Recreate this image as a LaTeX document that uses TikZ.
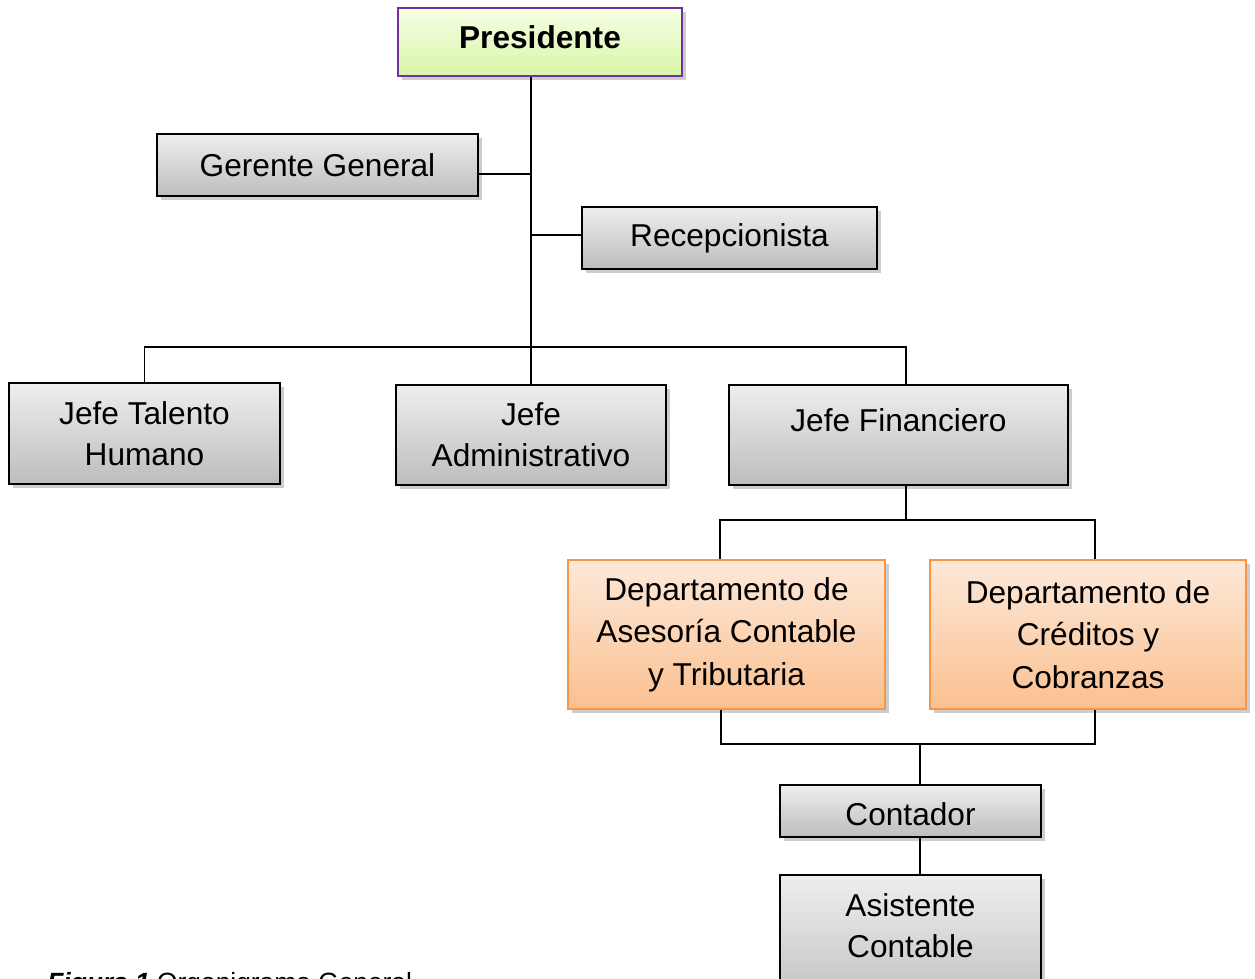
\documentclass[tikz,border=0pt]{standalone}
\usepackage{fontspec}
\setmainfont{Liberation Sans}
\usepackage{tikz}
\usetikzlibrary{positioning, calc, shadows}
\usepackage{xcolor}
\definecolor{morado}{HTML}{7030A0}
\definecolor{naranja}{HTML}{F79646}
\definecolor{verdeclaro}{HTML}{F6FFE4}
\definecolor{verde}{HTML}{D8F5AA}
\definecolor{grisclaro}{HTML}{EEEEEE}
\definecolor{gris}{HTML}{BDBDBD}
\definecolor{naranjaclaro}{HTML}{FDE9DA}
\definecolor{naranjamedio}{HTML}{FAC090}

\tikzset{
    cargo/.style={draw=black, line width=1.1pt, top color=grisclaro, bottom color=gris,
        drop shadow={shadow xshift=2pt, shadow yshift=-2pt, opacity=0.28, fill=black!70},
        align=center, inner sep=0pt, font=\fontsize{18}{23.5}\selectfont},
    presi/.style={cargo, draw=morado, top color=verdeclaro, bottom color=verde,
        font=\fontsize{18}{23.5}\selectfont\bfseries},
    depto/.style={cargo, draw=naranja, top color=naranjaclaro, bottom color=naranjamedio,
        font=\fontsize{18}{24.2}\selectfont},
    linea/.style={draw=black, line width=1pt}
}

\begin{document}
\begin{tikzpicture}[x=0.02cm, y=-0.02cm]
    \useasboundingbox (0,0) rectangle (1255,978);

    \node[presi, minimum width=284*0.02cm, minimum height=68*0.02cm] (pres) at (540,42) {\raisebox{0.1cm}[\height][\depth]{Presidente}};
    \node[cargo, minimum width=321*0.02cm, minimum height=62*0.02cm] (ger) at (317.5,165) {Gerente General};
    \node[cargo, minimum width=295*0.02cm, minimum height=62*0.02cm] (rec) at (729.5,238) {Recepcionista};

    \node[cargo, minimum width=271*0.02cm, minimum height=101*0.02cm] (jth) at (144.5,433.5) {Jefe Talento\\Humano};
    \node[cargo, minimum width=270*0.02cm, minimum height=100*0.02cm] (jad) at (531,435) {Jefe\\Administrativo};
    \node[cargo, minimum width=339*0.02cm, minimum height=100*0.02cm] (jfi) at (898.5,435) {\raisebox{0.3cm}[\height][\depth]{Jefe Financiero}};

    \node[depto, minimum width=317*0.02cm, minimum height=149*0.02cm] (dac) at (726.5,634.5) {Departamento de\\Asesoría Contable\\y Tributaria};
    \node[depto, minimum width=316*0.02cm, minimum height=149*0.02cm] (dcc) at (1088,634.5) {Departamento de\\Créditos y\\Cobranzas};

    \node[cargo, minimum width=261*0.02cm, minimum height=52*0.02cm] (cont) at (910.5,811) {\raisebox{-0.07cm}[\height][\depth]{Contador}};
    \node[cargo, minimum width=261*0.02cm, minimum height=142*0.02cm] (asis) at (910.5,946) {Asistente\\Contable\\~};

    \node[anchor=base west, inner sep=0pt, font=\fontsize{15}{18}\selectfont] (pie) at (47,991) {\textbf{\textit{Figura 1}} Organigrama General};

    \coordinate (cger) at (532,174);
    \coordinate (crec) at (532,235);
    \coordinate (barra) at (0,347);
    \coordinate (barrafin) at (0,520);
    \coordinate (barradep) at (0,744);

    \draw[linea] (jad.north) -- (jad.north |- pres.south);
    \draw[linea] (ger.east |- cger) -- (cger);
    \draw[linea] (crec) -- (crec -| rec.west);
    \draw[linea] (jth.north) |- ($(barra -| jfi.north)+(7.5,0)$) -- ($(jfi.north)+(7.5,0)$);
    \draw[linea] ($(jfi.south)+(7.5,0)$) -- ($(barrafin -| jfi.south)+(7.5,0)$);
    \draw[linea] ($(dac.north)+(-6.5,0)$) |- ($(barrafin -| dcc.north)+(7,0)$) -- ($(dcc.north)+(7,0)$);
    \draw[linea] ($(dac.south)+(-5.5,0)$) |- ($(barradep -| dcc.south)+(7,0)$) -- ($(dcc.south)+(7,0)$);
    \draw[linea] ($(cont.north)+(9.5,0)$) -- ($(barradep -| cont.north)+(9.5,0)$);
    \draw[linea] ($(cont.south)+(9.5,0)$) -- ($(asis.north)+(9.5,0)$);
\end{tikzpicture}
\end{document}
